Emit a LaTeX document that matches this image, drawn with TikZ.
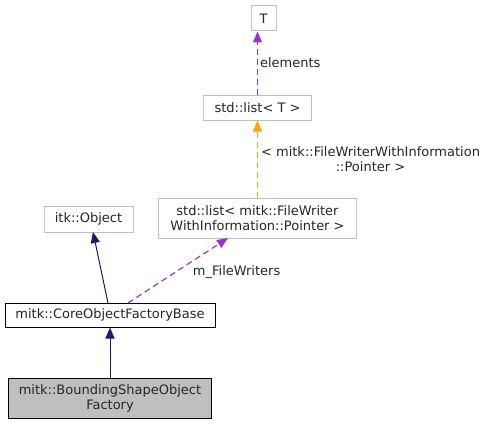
\documentclass[tikz,border=0pt]{standalone}
\usepackage{fontspec}
\setmainfont{DejaVu Sans}
\usetikzlibrary{arrows.meta,positioning}
\definecolor{boxgrey}{RGB}{191,191,191}
\definecolor{inhblue}{RGB}{25,25,112}
\definecolor{usepurple}{RGB}{154,50,205}
\definecolor{tmplorange}{RGB}{255,165,0}

\begin{document}
\begin{tikzpicture}[x=1pt, y=-1pt,
    classbox/.style={rectangle, draw=boxgrey, fill=white, font=\fontsize{13}{15}\selectfont,
        inner sep=0pt, align=center, text=black!85, line width=1pt},
    inherit/.style={draw=inhblue, line width=1pt, -{Triangle[length=11pt,width=9pt]}},
    member/.style={color=usepurple, line width=1.2pt, dash pattern=on 6pt off 4pt,
        -{Triangle[length=11pt,width=9pt]}},
    tmpl/.style={color=tmplorange, line width=1.2pt, dash pattern=on 6pt off 4pt,
        -{Triangle[length=11pt,width=9pt]}},
    elabel/.style={font=\fontsize{13}{15}\selectfont, text=black!85, align=center}
]
\useasboundingbox (0,0) rectangle (489,425);
\node[classbox, minimum width=25pt, minimum height=25pt] (tparam) at (263.5,18.5) {T};
\node[classbox, minimum width=108pt, minimum height=24pt] (listT) at (257.5,108) {std::list< T >};
\node[classbox, minimum width=198pt, minimum height=40pt] (listFW) at (257.5,218)
    {std::list< mitk::FileWriter\\WithInformation::Pointer >};
\node[classbox, minimum width=89pt, minimum height=26pt] (itkobj) at (88.5,219) {itk::Object};
\node[classbox, draw=black, minimum width=210pt, minimum height=24pt] (base) at (110,315)
    {mitk::CoreObjectFactoryBase};
\node[classbox, draw=black, fill=boxgrey, minimum width=203pt, minimum height=40pt] (bsfac) at (110,398)
    {mitk::BoundingShapeObject\\Factory};

\draw[member] (listT.north) -- node[elabel, right, pos=0.52, inner sep=2pt]{elements} (listT.north |- tparam.south);
\draw[tmpl] (listFW) -- node[elabel, right, pos=0.5, inner sep=2pt, xshift=1pt]
    {< mitk::FileWriterWithInformation\\::Pointer >} (listT);
\draw[inherit] (108,303) -- (93,232);
\draw[member] (128,303) -- node[elabel, right, pos=0.45, xshift=16pt, yshift=2pt]{m\_FileWriters} (228,238);
\draw[inherit] (bsfac) -- (base);
\end{tikzpicture}
\end{document}
